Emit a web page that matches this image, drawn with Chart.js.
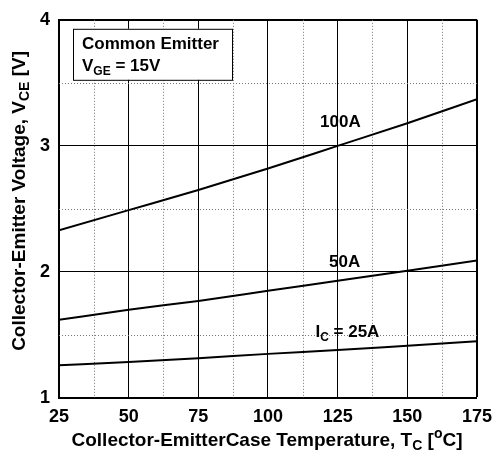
<!DOCTYPE html>
<html>
<head>
<meta charset="utf-8">
<script src="https://cdn.jsdelivr.net/npm/chart.js@4/dist/chart.umd.min.js"></script>
<style>
    html, body { margin: 0; padding: 0; background: #fff; }
    #wrap { width: 500px; height: 450px; }
</style>
</head>
<body>
<div id="wrap"><canvas id="vceChart"></canvas></div>
<script>
// Case temperature (deg C) and collector-emitter voltage (V) per collector current
var temps = [25, 50, 75, 100, 125, 150, 175];
var vce100A = [2.33, 2.49, 2.65, 2.82, 3.00, 3.18, 3.37];
var vce50A = [1.62, 1.70, 1.77, 1.85, 1.93, 2.01, 2.09];
var vce25A = [1.26, 1.285, 1.315, 1.35, 1.38, 1.415, 1.45];
var xRange = [25, 175];
var yRange = [1, 4];
// dotted minor grid values
var xMinorTicks = [37.5, 62.5, 87.5, 112.5, 137.5, 162.5];
var yMinorTicks = [1.5, 2.5, 3.5];

var FONT = '"Liberation Sans", Arial, sans-serif';

function toPoints(xs, ys) {
    var pts = [];
    for (var i = 0; i < xs.length; i++) {
        pts.push({x: xs[i], y: ys[i]});
    }
    return pts;
}

// draw text made of parts, with subscript / superscript pieces
function drawRich(ctx, parts, x, y, size, align) {
    var main = 'bold ' + size + 'px ' + FONT;
    var small = 'bold ' + Math.round(size * 0.72) + 'px ' + FONT;
    var total = 0;
    parts.forEach(function(p) {
        ctx.font = (p.sub || p.sup) ? small : main;
        p.w = ctx.measureText(p.t).width;
        total += p.w;
    });
    var cx = align === 'center' ? x - total / 2 : x;
    ctx.textAlign = 'left';
    ctx.textBaseline = 'alphabetic';
    ctx.fillStyle = '#000';
    parts.forEach(function(p) {
        ctx.font = (p.sub || p.sup) ? small : main;
        var dy = p.sub ? size * 0.22 : (p.sup ? -size * 0.42 : 0);
        ctx.fillText(p.t, cx, y + dy);
        cx += p.w;
    });
}

// curve labels, anchored in data coordinates (centre x, baseline y)
var curveLabels = [
    {parts: [{t: '100A'}], x: 126, y: 3.15},
    {parts: [{t: '50A'}], x: 127.5, y: 2.04},
    {parts: [{t: 'I'}, {t: 'C', sub: true}, {t: ' = 25A'}], x: 128.5, y: 1.485}
];

// dotted minor grid, placed through the chart's own scales
var minorGrid = {
    id: 'minorGrid',
    beforeDatasetsDraw: function(chart) {
        var ctx = chart.ctx;
        var area = chart.chartArea;
        var xs = chart.scales.x, ys = chart.scales.y;
        ctx.save();
        ctx.strokeStyle = '#777';
        ctx.lineWidth = 1;
        ctx.setLineDash([1, 2]);
        ctx.beginPath();
        xMinorTicks.forEach(function(v) {
            var px = Math.round(xs.getPixelForValue(v)) + 0.5;
            ctx.moveTo(px, area.top);
            ctx.lineTo(px, area.bottom);
        });
        yMinorTicks.forEach(function(v) {
            var py = Math.round(ys.getPixelForValue(v)) + 0.5;
            ctx.moveTo(area.left, py);
            ctx.lineTo(area.right, py);
        });
        ctx.stroke();
        ctx.restore();
    }
};

var annotate = {
    id: 'annotate',
    afterDatasetsDraw: function(chart) {
        var ctx = chart.ctx;
        var area = chart.chartArea;
        var xs = chart.scales.x, ys = chart.scales.y;
        ctx.save();
        // condition box
        ctx.fillStyle = '#fff';
        ctx.fillRect(area.left + 14, area.top + 9, 159, 51);
        ctx.strokeStyle = '#000';
        ctx.lineWidth = 1;
        ctx.strokeRect(area.left + 14.5, area.top + 9.5, 159, 51);
        drawRich(ctx, [{t: 'Common Emitter'}], area.left + 23, area.top + 29, 17, 'left');
        drawRich(ctx, [{t: 'V'}, {t: 'GE', sub: true}, {t: ' = 15V'}], area.left + 23, area.top + 51, 17, 'left');
        // curve labels
        curveLabels.forEach(function(l) {
            drawRich(ctx, l.parts, xs.getPixelForValue(l.x), ys.getPixelForValue(l.y), 17, 'center');
        });
        ctx.restore();
    },
    afterDraw: function(chart) {
        var ctx = chart.ctx;
        var area = chart.chartArea;
        ctx.save();
        drawRich(ctx, [
            {t: 'Collector-EmitterCase Temperature, T'}, {t: 'C', sub: true},
            {t: ' ['}, {t: 'o', sup: true}, {t: 'C]'}
        ], (area.left + area.right) / 2 - 1, 446, 19, 'center');
        ctx.translate(25, (area.top + area.bottom) / 2 - 8);
        ctx.rotate(-Math.PI / 2);
        drawRich(ctx, [
            {t: 'Collector-Emitter Voltage, V'}, {t: 'CE', sub: true}, {t: ' [V]'}
        ], 0, 0, 19, 'center');
        ctx.restore();
    }
};

var vceChart = new Chart(document.getElementById('vceChart').getContext('2d'), {
    type: 'line',
    data: {
        datasets: [
            {label: '100A', data: toPoints(temps, vce100A)},
            {label: '50A', data: toPoints(temps, vce50A)},
            {label: '25A', data: toPoints(temps, vce25A)}
        ]
    },
    options: {
        responsive: true,
        maintainAspectRatio: false,
        animation: false,
        layout: { padding: { top: 14, right: 18, left: 0, bottom: 0 } },
        elements: {
            line: { borderColor: '#000', borderWidth: 2, cubicInterpolationMode: 'monotone', fill: false },
            point: { radius: 0 }
        },
        plugins: {
            legend: { display: false },
            tooltip: { enabled: false }
        },
        scales: {
            x: {
                type: 'linear',
                position: 'bottom',
                min: xRange[0], max: xRange[1],
                ticks: { stepSize: 25, color: '#000', padding: 8, font: { family: FONT, size: 18, weight: 'bold' } },
                grid: {
                    drawTicks: false,
                    color: '#000',
                    lineWidth: function(c) { return c.tick && c.tick.value === xRange[1] ? 2 : 1; }
                },
                border: { color: '#000', width: 2 },
                afterFit: function(scale) { scale.height = 52; }
            },
            y: {
                type: 'linear',
                position: 'left',
                min: yRange[0], max: yRange[1],
                ticks: { stepSize: 1, color: '#000', padding: 9, font: { family: FONT, size: 18, weight: 'bold' } },
                grid: {
                    drawTicks: false,
                    color: '#000',
                    lineWidth: function(c) { return c.tick && c.tick.value === yRange[1] ? 2 : 1; }
                },
                border: { color: '#000', width: 2 },
                afterFit: function(scale) { scale.width = 59; }
            }
        }
    },
    plugins: [minorGrid, annotate]
});
</script>
</body>
</html>
